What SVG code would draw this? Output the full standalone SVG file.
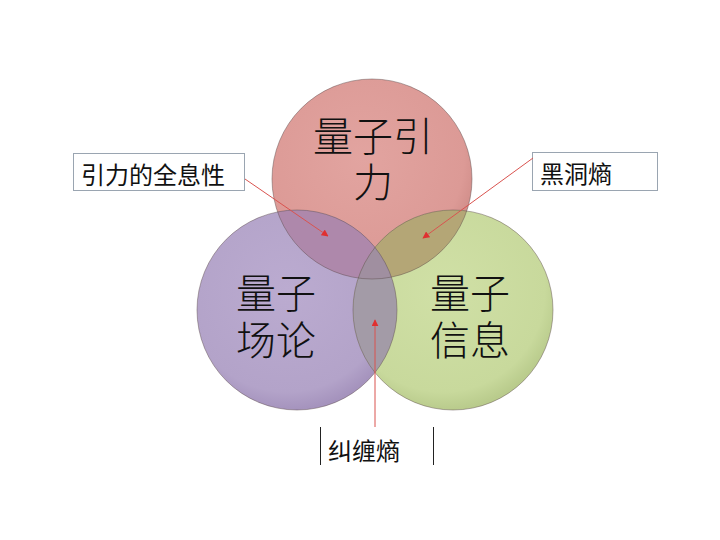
<svg xmlns="http://www.w3.org/2000/svg" width="720" height="540" viewBox="0 0 720 540">
<style>
.big{font-family:"Noto Sans CJK SC","Noto Sans CJK JP",sans-serif;font-size:40px;font-weight:300;fill:#111}
.lab{font-family:"Noto Sans CJK SC","Noto Sans CJK JP",sans-serif;font-size:24px;fill:#111}
.rim{fill:none;stroke:#5a4a4a;stroke-opacity:0.45;stroke-width:1}
.box{fill:#fff;stroke:#9aa5b1;stroke-width:1}
.conn{stroke:#d9534f;stroke-width:1;fill:none}
</style>
<defs>
<clipPath id="c1"><circle cx="372" cy="179" r="100"/></clipPath>
<clipPath id="c2"><circle cx="297" cy="310" r="100"/></clipPath>
<marker id="ah" viewBox="0 0 10 10" refX="9" refY="5" markerWidth="7" markerHeight="7" markerUnits="userSpaceOnUse" orient="auto">
<path d="M0,0 L10,5 L0,10 z" fill="#e03030"/>
</marker>
<radialGradient id="gr" cx="0.45" cy="0.4" r="0.6"><stop offset="0" stop-color="#e2a4a0"/><stop offset="0.85" stop-color="#dc9a96"/><stop offset="1" stop-color="#cf8c88"/></radialGradient>
<radialGradient id="gp" cx="0.45" cy="0.4" r="0.6"><stop offset="0" stop-color="#bbabd0"/><stop offset="0.85" stop-color="#b3a3c9"/><stop offset="1" stop-color="#a593bd"/></radialGradient>
<radialGradient id="gg" cx="0.45" cy="0.4" r="0.6"><stop offset="0" stop-color="#d0e0a6"/><stop offset="0.85" stop-color="#c8d99c"/><stop offset="1" stop-color="#b9cb8c"/></radialGradient>
</defs>
<rect width="720" height="540" fill="#fff"/>
<g id="node-gravity">
<circle cx="372" cy="179" r="100" fill="url(#gr)"/>
</g>
<g id="node-qft">
<circle cx="297" cy="310" r="100" fill="url(#gp)"/>
</g>
<g id="node-qinfo">
<circle cx="453" cy="310" r="100" fill="url(#gg)"/>
</g>
<g id="overlaps">
<circle cx="297" cy="310" r="100" fill="#ae88ab" clip-path="url(#c1)"/>
<circle cx="453" cy="310" r="100" fill="#b4a676" clip-path="url(#c1)"/>
<circle cx="453" cy="310" r="100" fill="#a39ba7" clip-path="url(#c2)"/>
<g clip-path="url(#c1)"><circle cx="453" cy="310" r="100" fill="#a08fa0" clip-path="url(#c2)"/></g>
<circle class="rim" cx="372" cy="179" r="100"/>
<circle class="rim" cx="297" cy="310" r="100"/>
<circle class="rim" cx="453" cy="310" r="100"/>
</g>
<g id="labels-main">
<text class="big" x="373" y="151" text-anchor="middle">量子引</text>
<text class="big" x="373" y="197" text-anchor="middle">力</text>
<text class="big" x="236" y="308">量子</text>
<text class="big" x="236" y="355">场论</text>
<text class="big" x="430" y="308">量子</text>
<text class="big" x="430" y="355">信息</text>
</g>
<g id="node-holography">
<rect class="box" x="73.500" y="153.500" width="171" height="37"/>
<text class="lab" x="81" y="184" font-size="25">引力的全息性</text>
</g>
<g id="node-bh">
<rect class="box" x="532.500" y="152.500" width="125" height="38"/>
<text class="lab" x="540" y="183">黑洞熵</text>
</g>
<g id="node-ent">
<line x1="320.500" y1="427" x2="320.500" y2="465" stroke="#222" stroke-width="1"/>
<line x1="433.500" y1="427" x2="433.500" y2="465" stroke="#222" stroke-width="1"/>
<text class="lab" x="328" y="460">纠缠熵</text>
</g>
<g id="connectors">
<line class="conn" x1="245" y1="179" x2="328" y2="236" marker-end="url(#ah)"/>
<line class="conn" x1="533" y1="158" x2="423" y2="238" marker-end="url(#ah)"/>
<line class="conn" x1="375" y1="427" x2="375" y2="320" marker-end="url(#ah)"/>
</g>
</svg>
